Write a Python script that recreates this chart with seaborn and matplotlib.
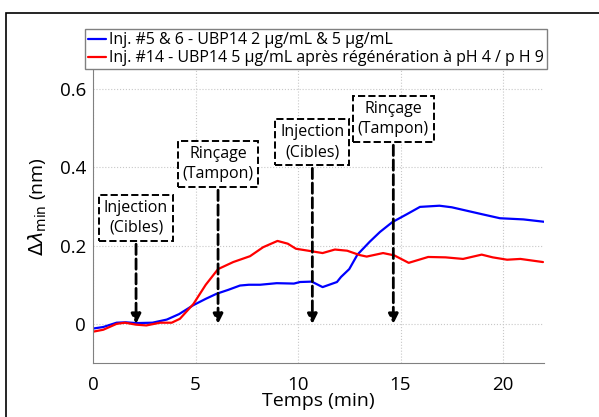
import numpy as np
import pandas as pd
import matplotlib
matplotlib.use('Agg')
import matplotlib.pyplot as plt
import seaborn as sns
from matplotlib.patches import Rectangle

# données
t_bleu = [0, 0.5, 1.15, 1.6, 2.1, 2.9, 3.6, 4.2, 4.9, 5.5, 6.03, 6.6, 7.17, 7.6, 8.15,
          8.96, 9.8, 10.1, 10.67, 11.2, 11.9, 12.1, 12.5, 12.9, 13.5, 14.0, 14.6, 15.3,
          15.95, 16.9, 17.5, 18.0, 19.0, 19.85, 21.0, 22.0]
v_bleu = [-0.012, -0.008, 0.003, 0.004, 0.002, 0.003, 0.011, 0.025, 0.048, 0.064, 0.077,
          0.087, 0.098, 0.1, 0.1, 0.104, 0.103, 0.107, 0.108, 0.094, 0.107, 0.12, 0.14,
          0.177, 0.21, 0.235, 0.26, 0.28, 0.299, 0.302, 0.298, 0.292, 0.28, 0.27, 0.267, 0.261]

t_rouge = [0, 0.5, 1.15, 1.56, 2.1, 2.6, 3.27, 3.84, 4.24, 4.9, 5.5, 6.1, 6.84, 7.66, 8.3,
           9.0, 9.5, 9.9, 10.5, 11.2, 11.8, 12.4, 13.0, 13.35, 14.15, 14.7, 15.4, 16.35,
           17.2, 18.05, 18.96, 19.5, 20.2, 20.85, 21.95]
v_rouge = [-0.02, -0.015, 0.0, 0.003, -0.002, -0.004, 0.003, 0.003, 0.013, 0.051, 0.1,
           0.14, 0.158, 0.173, 0.196, 0.212, 0.205, 0.192, 0.187, 0.181, 0.19, 0.187,
           0.176, 0.172, 0.181, 0.175, 0.156, 0.171, 0.17, 0.166, 0.177, 0.17, 0.164,
           0.166, 0.158]

labels = ['Inj. #5 & 6 - UBP14 2 µg/mL & 5 µg/mL',
          'Inj. #14 - UBP14 5 µg/mL après régénération à pH 4 / p H 9']

# annotations : texte, temps de la flèche, hauteur de la boîte
annot_txt = ['Injection\n(Cibles)', 'Rinçage\n(Tampon)', 'Injection\n(Cibles)', 'Rinçage\n(Tampon)']
annot_t = [2.1, 6.1, 10.7, 14.65]
annot_y = [0.271, 0.409, 0.465, 0.524]

sns.set_style('white')
plt.rcParams['font.family'] = ['Open Sans', 'DejaVu Sans']
plt.rcParams['text.color'] = 'black'
plt.rcParams['axes.labelcolor'] = 'black'

fig = plt.figure(figsize=(5.99, 4.17), dpi=100)
ax = fig.add_axes([93/599, 1-363/417, (544-93)/599, (363-50)/417])

sns.lineplot(x=t_bleu, y=v_bleu, color='#0000ff', lw=1.6, label=labels[0], ax=ax, sort=False)
sns.lineplot(x=t_rouge, y=v_rouge, color='#ff0000', lw=1.6, label=labels[1], ax=ax, sort=False)

for txt, tx, ty in zip(annot_txt, annot_t, annot_y):
    ax.annotate(txt, xy=(tx, 0), xytext=(tx, ty), ha='center', va='center', fontsize=11.5,
                linespacing=1.35,
                bbox=dict(boxstyle='square,pad=0.3', fc='white', ec='black', ls='--', lw=1.4),
                arrowprops=dict(arrowstyle='-|>,head_length=0.5,head_width=0.25', color='black',
                                ls='--', lw=2.0, shrinkB=0))

ax.set_xlim(0, 22)
ax.set_ylim(-0.1, 0.7)
ax.set_xticks([0, 5, 10, 15, 20])
ax.set_yticks([0, 0.2, 0.4, 0.6])
ax.set_yticklabels(['0', '0.2', '0.4', '0.6'])
ax.tick_params(direction='in', length=3, labelsize=13.5, color='#808080', labelcolor='black')
ax.tick_params(axis='x', pad=9)
ax.tick_params(axis='y', pad=5)
ax.grid(True, ls=':', color='#c8c8c8', lw=0.8)
for s in ['top', 'right']:
    ax.spines[s].set_visible(False)
for s in ['left', 'bottom']:
    ax.spines[s].set_color('#808080')
ax.set_xlabel('Temps (min)', fontsize=14, labelpad=-1)
ax.set_ylabel(r'$\Delta\lambda_{\rm min}$ (nm)', fontsize=14, labelpad=8)

leg = ax.legend(loc='upper left', bbox_to_anchor=(85/599, 1-29/417), bbox_transform=fig.transFigure,
                fontsize=11.5, handlelength=1.1, handletextpad=0.2, borderpad=0.2,
                labelspacing=0.12, fancybox=False, framealpha=1, borderaxespad=0)
leg.get_frame().set_edgecolor('#808080')

fig.patches.append(Rectangle((6/599, -0.1), 1.1, 1.1 - 13/417, transform=fig.transFigure,
                             fill=False, ec='black', lw=1.2, clip_on=False))

fig.savefig('out.png', dpi=100)
